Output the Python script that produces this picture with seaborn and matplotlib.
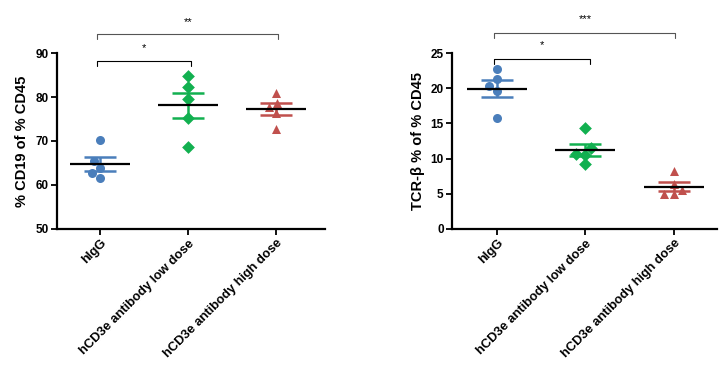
import numpy as np
import pandas as pd
import matplotlib
matplotlib.use("Agg")
import matplotlib.pyplot as plt
import seaborn as sns

# Groups and colours
groups = ["hIgG", "hCD3e antibody low dose", "hCD3e antibody high dose"]
colors = ["#4A7EBB", "#12B050", "#C0504D"]
markers = ["o", "D", "^"]

# Values
cd19_higg = [70.2, 65.4, 63.9, 62.7, 61.6]
cd19_low = [84.8, 82.3, 79.5, 75.2, 68.6]
cd19_high = [81.0, 78.7, 77.8, 76.4, 72.7]

tcr_higg = [22.7, 21.3, 20.3, 19.6, 15.8]
tcr_low = [14.3, 11.5, 10.5, 10.6, 9.2]
tcr_high = [8.2, 6.4, 5.5, 4.9, 5.0]

sns.set_style("ticks")
plt.rcParams["font.family"] = ["Liberation Sans", "DejaVu Sans"]
plt.rcParams["font.weight"] = "bold"
for k in ["text.color", "axes.labelcolor", "xtick.color", "ytick.color", "axes.edgecolor"]:
    plt.rcParams[k] = "black"


def make_df(a, b, c):
    rows = []
    for g, vals in zip(groups, [a, b, c]):
        for v in vals:
            rows.append({"group": g, "value": v})
    return pd.DataFrame(rows)


def panel(ax, df, ylabel, ylim, yticks, xlim, brackets, label_x):
    # scatter of individual animals
    for g, c, m in zip(groups, colors, markers):
        sns.swarmplot(data=df[df.group == g], x="group", y="value", order=groups,
                      color=c, marker=m, size=6.5, linewidth=0, ax=ax, zorder=2)
    stats = df.groupby("group", sort=False)["value"].agg(["mean", "sem"]).reindex(groups)
    for i, (g, c) in enumerate(zip(groups, colors)):
        ax.errorbar(i, stats.loc[g, "mean"], yerr=stats.loc[g, "sem"], fmt="none",
                    ecolor=c, elinewidth=1.8, capsize=11.5, capthick=1.8, zorder=3)
        ax.hlines(stats.loc[g, "mean"], i - 0.34, i + 0.34, color="black", lw=1.6, zorder=4)

    ax.set_ylim(*ylim)
    ax.set_yticks(yticks)
    ax.set_xlim(*xlim)
    ax.set_xlabel("")
    ax.set_ylabel(ylabel, fontsize=10.5, fontweight="bold")
    ax.yaxis.set_label_coords(label_x, 0.5)
    ax.set_xticks(range(len(groups)))
    ax.set_xticklabels(groups, rotation=45, ha="right", rotation_mode="anchor",
                       fontsize=9.3, fontweight="bold")
    for lab in ax.get_yticklabels():
        lab.set_fontsize(8.5)
        lab.set_fontweight("bold")
    sns.despine(ax=ax)
    for s in ["left", "bottom"]:
        ax.spines[s].set_linewidth(1.6)
    ax.tick_params(width=1.3, length=4, pad=2)

    # significance brackets
    for x1, y_top, y_low, txt, ty, col in brackets:
        ax.plot([-0.03, -0.03, x1, x1], [y_low, y_top, y_top, y_low], color=col,
                lw=0.8, clip_on=False)
        ax.text((x1 - 0.03) / 2, ty, txt, ha="center", va="center", fontsize=8,
                fontweight="normal", clip_on=False)


fig = plt.figure(figsize=(7.27, 3.76), dpi=100)
ax1 = fig.add_axes([0.0784, 0.391, 0.3686, 0.468])
ax2 = fig.add_axes([0.6217, 0.391, 0.3645, 0.468])

panel(ax1, make_df(cd19_higg, cd19_low, cd19_high), "% CD19 of % CD45",
      (50, 90), [50, 60, 70, 80, 90], (-0.49, 2.56),
      [(1.03, 88.2, 87.0, "*", 91.2, "black"),
       (2.03, 94.3, 93.1, "**", 97.1, "#555555")], -0.105)

panel(ax2, make_df(tcr_higg, tcr_low, tcr_high), "TCR-β % of % CD45",
      (0, 25), [0, 5, 10, 15, 20, 25], (-0.51, 2.49),
      [(1.05, 24.2, 23.5, "*", 26.1, "black"),
       (2.02, 27.9, 27.2, "***", 29.8, "#555555")], -0.10)

fig.savefig("out.png", dpi=100)
